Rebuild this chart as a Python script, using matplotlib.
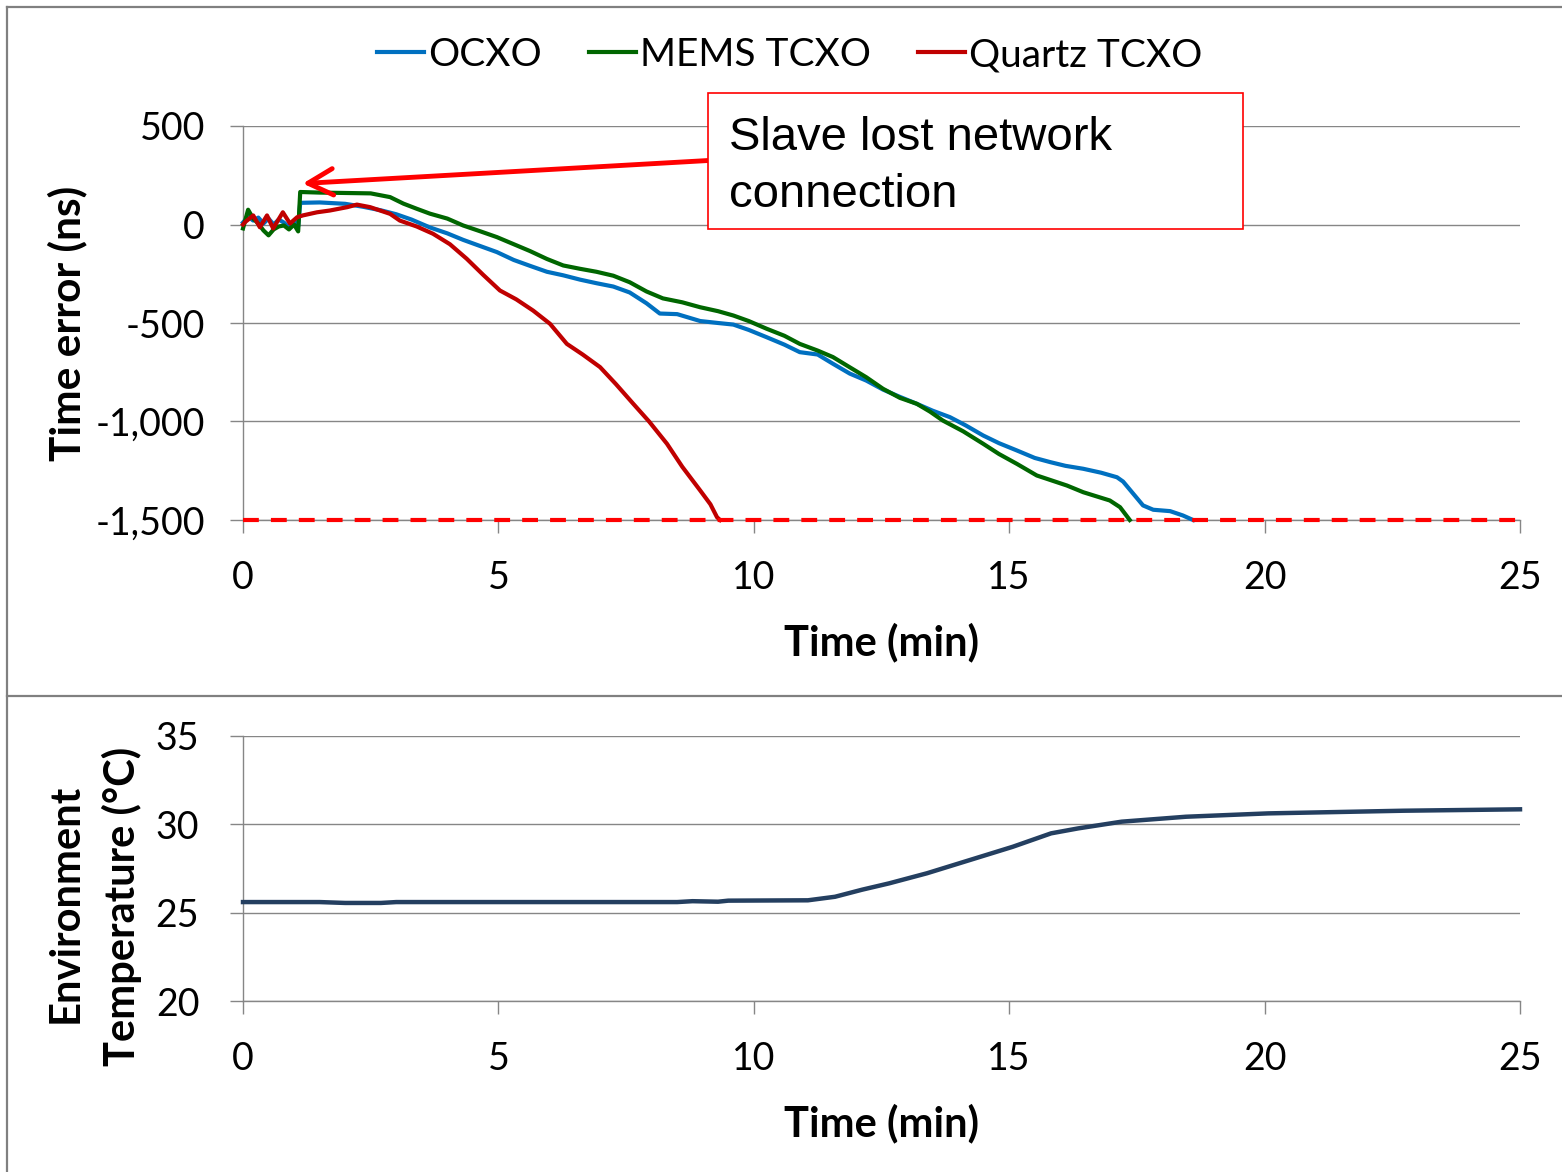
import matplotlib
matplotlib.use("Agg")
import matplotlib.pyplot as plt
from matplotlib.lines import Line2D
from matplotlib.patches import Rectangle
from matplotlib.ticker import FuncFormatter

plt.rcParams['axes.unicode_minus'] = False
plt.rcParams['font.family'] = ['Lato', 'DejaVu Sans']

# ---------------- data ----------------
ocxo_t = [0, 0.1, 0.2, 0.3, 0.4, 0.5, 0.6, 0.7, 0.8, 0.9, 1.0, 1.08, 1.12, 1.5, 2.0,
          2.35, 2.7, 3.0, 3.3, 3.66, 4.0, 4.31, 4.65, 4.97, 5.3, 5.62, 5.95, 6.27,
          6.6, 6.92, 7.25, 7.57, 7.9, 8.16, 8.5, 8.95, 9.3, 9.6, 9.9, 10.25, 10.6,
          10.9, 11.25, 11.55, 11.88, 12.2, 12.53, 12.86, 13.19, 13.5, 13.84, 14.15,
          14.49, 14.8, 15.15, 15.5, 15.8, 16.1, 16.45, 16.8, 17.11, 17.23, 17.62,
          17.82, 18.15, 18.4, 18.6]
ocxo_v = [10, 40, 20, 35, 5, 30, 0, 25, 10, -15, 20, -10, 110, 112, 105,
          90, 72, 52, 25, -15, -45, -78, -110, -140, -180, -210, -240, -258,
          -280, -298, -315, -345, -400, -452, -455, -490, -500, -508, -535, -572, -610,
          -648, -660, -707, -757, -792, -838, -875, -910, -945, -978, -1020,
          -1071, -1110, -1147, -1185, -1206, -1225, -1240, -1260, -1283, -1305, -1426,
          -1448, -1455, -1477, -1500]

mems_t = [0, 0.1, 0.2, 0.3, 0.4, 0.5, 0.6, 0.7, 0.8, 0.9, 1.0, 1.08, 1.12, 1.5, 2.0,
          2.5, 2.88, 3.14, 3.4, 3.66, 4.0, 4.31, 4.65, 4.97, 5.3, 5.62, 5.95, 6.27,
          6.6, 6.92, 7.25, 7.57, 7.9, 8.22, 8.6, 8.95, 9.3, 9.6, 9.9, 10.25, 10.6,
          10.9, 11.25, 11.55, 11.88, 12.2, 12.53, 12.86, 13.19, 13.45, 13.7, 14.1,
          14.49, 14.8, 15.15, 15.54, 16.13, 16.45, 16.97, 17.17, 17.36]
mems_v = [-20, 75, 30, 5, -30, -55, -25, -10, -5, -25, 0, -35, 165, 162, 160,
          158, 139, 106, 80, 55, 30, -5, -35, -64, -100, -135, -175, -208,
          -225, -240, -260, -293, -340, -375, -395, -420, -440, -462, -490, -529, -565,
          -606, -640, -673, -725, -775, -834, -880, -910, -950, -995, -1050,
          -1113, -1165, -1215, -1274, -1325, -1359, -1401, -1435, -1500]

quartz_t = [0, 0.04, 0.2, 0.33, 0.47, 0.59, 0.78, 0.92, 1.06, 1.17, 1.45, 1.70, 2.04,
            2.23, 2.49, 2.88, 3.07, 3.4, 3.72, 4.05, 4.38, 4.7, 5.03, 5.35, 5.68,
            6.01, 6.34, 6.65, 6.99, 7.3, 7.64, 7.95, 8.3, 8.6, 8.95, 9.15, 9.28, 9.34]
quartz_v = [0, 12, 46, -14, 46, -20, 62, 5, 37, 46, 62, 71, 88,
            101, 88, 54, 20, -10, -47, -100, -174, -255, -335, -380, -437,
            -504, -606, -660, -724, -810, -910, -1000, -1113, -1230, -1350, -1420, -1486, -1500]

limit_t = [0, 25]
limit_v = [-1500, -1500]

temp_t = [0, 1.5, 2.0, 2.7, 3.0, 8.5, 8.8, 9.3, 9.5, 11.06, 11.59, 12.12, 12.65, 13.39,
          14.23, 15.07, 15.82, 16.35, 17.2, 18.46, 20.07, 21.66, 22.71, 25]
temp_v = [25.6, 25.6, 25.55, 25.55, 25.6, 25.6, 25.65, 25.62, 25.68, 25.7, 25.9, 26.3,
          26.66, 27.23, 27.98, 28.73, 29.49, 29.77, 30.15, 30.43, 30.62, 30.71, 30.77, 30.85]

series_names = ["OCXO", "MEMS TCXO", "Quartz TCXO"]
x_ticks = [0, 5, 10, 15, 20, 25]
y1_ticks = [-1500, -1000, -500, 0, 500]
y2_ticks = [20, 25, 30, 35]

# ---------------- figure ----------------
W, H = 1562, 1172
fig = plt.figure(figsize=(W / 100, H / 100), dpi=100)

def fx(px):
    return px / W

def fy(py):
    return 1 - py / H

GRID = '#868686'
ax1 = fig.add_axes([fx(243), fy(520), fx(1520) - fx(243), fy(126) - fy(520)])
ax2 = fig.add_axes([fx(243), fy(1001), fx(1520) - fx(243), fy(736) - fy(1001)])

c_ocxo, c_mems, c_quartz = '#0070C0', '#006600', '#C00000'
l1, = ax1.plot(ocxo_t, ocxo_v, color=c_ocxo, lw=3.0, zorder=3, clip_on=False)
l2, = ax1.plot(mems_t, mems_v, color=c_mems, lw=3.0, zorder=3, clip_on=False)
l3, = ax1.plot(quartz_t, quartz_v, color=c_quartz, lw=3.0, zorder=3, clip_on=False)
ax1.plot(limit_t, limit_v, color='#FF0000', lw=3.0, dashes=(3.8, 2.9), zorder=4,
         clip_on=False)

ax2.plot(temp_t, temp_v, color='#243F60', lw=3.2, zorder=3, clip_on=False)

for ax, yt, ylim, ypad in ((ax1, y1_ticks, (-1500, 500), 18), (ax2, y2_ticks, (20, 35), 22)):
    ax.set_xlim(0, 25)
    ax.set_ylim(*ylim)
    ax.set_xticks(x_ticks)
    ax.set_yticks(yt)
    for s in ('top', 'right'):
        ax.spines[s].set_visible(False)
    for s in ('left', 'bottom'):
        ax.spines[s].set_color(GRID)
        ax.spines[s].set_linewidth(1.0)
    ax.grid(axis='y', color=GRID, lw=1.0, zorder=0)
    ax.set_axisbelow(True)
    ax.tick_params(axis='x', direction='out', length=9.5, width=1.0, color=GRID,
                   labelsize=27, pad=19)
    ax.tick_params(axis='y', direction='out', length=9.5, width=1.0, color=GRID,
                   labelsize=27, pad=ypad)
    ax.yaxis.set_major_formatter(FuncFormatter(lambda v, p: f"{v:,.0f}"))

# axis titles
fig.text(fx(881), fy(655), "Time (min)", fontsize=30, fontweight='bold',
         ha='center', va='baseline')
fig.text(fx(881), fy(1136), "Time (min)", fontsize=30, fontweight='bold',
         ha='center', va='baseline')
fig.text(fx(67), fy(323), "Time error (ns)", fontsize=30.5, fontweight='bold',
         rotation=90, ha='center', va='center')
fig.text(fx(66), fy(903), "Environment", fontsize=30, fontweight='bold',
         rotation=90, ha='center', va='center')
fig.text(fx(122), fy(906), "Temperature (°C)", fontsize=30, fontweight='bold',
         rotation=90, ha='center', va='center')

# legend
fig.legend([l1, l2, l3], series_names, loc='center', bbox_to_anchor=(fx(790), fy(55)),
           ncol=3, frameon=False, fontsize=28, handlelength=1.2, handletextpad=0.12,
           columnspacing=1.2, borderaxespad=0, borderpad=0)

# annotation box + arrow
box = Rectangle((fx(708), fy(229)), fx(1243) - fx(708), fy(93) - fy(229),
                transform=fig.transFigure, facecolor='white', edgecolor='#FF0000',
                lw=1.2, zorder=10)
fig.patches.append(box)
fig.text(fx(729), fy(150), "Slave lost network", fontsize=34, family='Liberation Sans',
         ha='left', va='baseline', zorder=11)
fig.text(fx(729), fy(207), "connection", fontsize=34, family='Liberation Sans',
         ha='left', va='baseline', zorder=11)
ax1.annotate("", xy=(1.17, 208), xytext=(9.12, 325), xycoords='data', textcoords='data',
             annotation_clip=False,
             arrowprops=dict(arrowstyle='->,head_length=1.8,head_width=0.95',
                             mutation_scale=10, color='#FF0000', lw=3.5,
                             shrinkA=0, shrinkB=0), zorder=9)

# chart-area frame lines
fcol = '#808080'
fig.add_artist(Line2D([fx(7), fx(7)], [fy(7), 0], transform=fig.transFigure,
                      color=fcol, lw=1.6))
fig.add_artist(Line2D([fx(7), 1], [fy(7), fy(7)], transform=fig.transFigure,
                      color=fcol, lw=1.6))
fig.add_artist(Line2D([fx(7), 1], [fy(695.5), fy(695.5)], transform=fig.transFigure,
                      color=fcol, lw=1.6))

fig.savefig("out.png", dpi=100, facecolor='white')
